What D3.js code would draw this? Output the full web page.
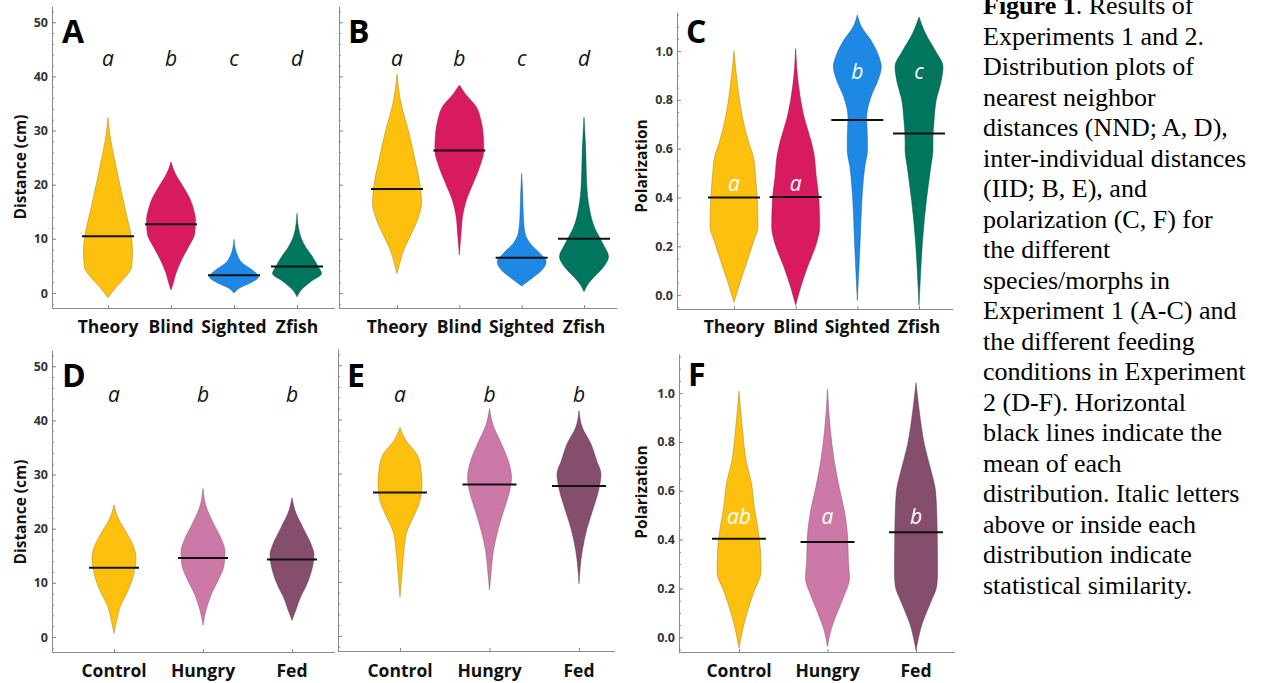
<!DOCTYPE html>
<html><head><meta charset="utf-8">
<script src="https://cdn.jsdelivr.net/npm/d3@7"></script>
<style>body{margin:0;background:#fff}svg{display:block}</style>
</head><body><svg id="c" width="1264" height="683"></svg>
<script>
// ---------------- DATA ----------------
const exp1Groups = ["Theory", "Blind", "Sighted", "Zfish"];
const exp2Groups = ["Control", "Hungry", "Fed"];
const exp1Colors = ["#FEC00F", "#D81B60", "#1E88E5", "#00765F"];
const exp2Colors = ["#FEC00F", "#CC79A7", "#864E6D"];

const distTicks = [0, 10, 20, 30, 40, 50];
const polTicks = [0, 0.2, 0.4, 0.6, 0.8, 1.0];

// means (horizontal black lines)
const nnd1Means = [10.5, 12.7, 3.3, 4.9];
const iid1Means = [19.2, 26.3, 6.5, 10.0];
const pol1Means = [0.400, 0.402, 0.717, 0.662];
const nnd2Means = [12.8, 14.6, 14.3];
const iid2Means = [26.5, 28.0, 27.7];
const pol2Means = [0.404, 0.390, 0.430];

// significance letters
const nnd1Letters = ["a", "b", "c", "d"];
const iid1Letters = ["a", "b", "c", "d"];
const pol1Letters = ["a", "a", "b", "c"];
const pol1LetterAt = [0.457, 0.457, 0.915, 0.915];
const nnd2Letters = ["a", "b", "b"];
const iid2Letters = ["a", "b", "b"];
const pol2Letters = ["ab", "a", "b"];
const pol2LetterAt = [0.495, 0.495, 0.495];

// density profiles: [value, relative density (0..1)]
const nnd1Theory  = [[32.4,0],[29.5,0.07],[23.3,0.33],[18.4,0.56],[14.7,0.74],[11,0.93],[7.9,1],[4.9,0.97],[3,0.72],[1.2,0.36],[-0.86,0]];
const nnd1Blind   = [[24.2,0],[22.1,0.17],[19.6,0.5],[17.2,0.79],[15.3,0.93],[13.5,1],[11,0.97],[8.5,0.71],[6.1,0.43],[3.6,0.2],[1.8,0.09],[0.55,0]];
const nnd1Sighted = [[9.9,0],[7.3,0.11],[5.5,0.35],[4.2,0.76],[3,1],[1.9,0.69],[0.9,0.21],[0,0]];
const nnd1Zfish   = [[14.7,0],[11,0.11],[8.5,0.35],[6.7,0.63],[4.9,0.86],[3.6,1],[2.1,0.56],[0.55,0.17],[-0.7,0]];

const iid1Theory  = [[40.4,0],[35.6,0.14],[29.5,0.49],[24.5,0.74],[20.2,0.93],[16.5,1],[14.1,0.88],[11,0.59],[7.9,0.27],[5.5,0.11],[3.6,0]];
const iid1Blind   = [[38.4,0],[36.8,0.24],[34.4,0.69],[31.9,0.88],[29.5,0.97],[26.4,1],[23.3,0.83],[20.2,0.56],[17.2,0.29],[14.1,0.13],[11,0.07],[7.0,0]];
const iid1Sighted = [[22.1,0],[18.4,0.04],[14.1,0.07],[11,0.14],[9.2,0.34],[7.3,0.75],[5.8,1],[4.2,0.82],[2.7,0.41],[1.3,0]];
const iid1Zfish   = [[32.5,0],[26.4,0.07],[20.2,0.11],[15.9,0.21],[12.2,0.42],[9.2,0.76],[6.7,1],[4.9,0.81],[3,0.42],[1.5,0.14],[0.25,0]];

const pol1Theory  = [[1.0,0],[0.867,0.14],[0.73,0.35],[0.62,0.63],[0.566,0.81],[0.484,0.9],[0.39,0.97],[0.28,1],[0.224,0.83],[0.142,0.56],[0.06,0.28],[-0.03,0]];
const pol1Blind   = [[1.01,0],[0.867,0.11],[0.73,0.35],[0.635,0.63],[0.58,0.76],[0.484,0.86],[0.39,0.97],[0.28,1],[0.21,0.86],[0.115,0.49],[0.033,0.21],[-0.042,0]];
const pol1Sighted = [[1.148,0],[1.10,0.17],[1.045,0.56],[0.977,0.9],[0.936,1],[0.88,0.86],[0.81,0.56],[0.73,0.39],[0.635,0.42],[0.594,0.42],[0.525,0.31],[0.39,0.19],[0.25,0.13],[0.115,0.07],[-0.022,0]];
const pol1Zfish   = [[1.14,0],[1.07,0.28],[1.0,0.69],[0.936,1],[0.867,0.9],[0.8,0.72],[0.717,0.63],[0.635,0.58],[0.594,0.58],[0.525,0.49],[0.39,0.31],[0.25,0.17],[0.115,0.08],[-0.042,0]];

const nnd2Control = [[24.4,0],[22,0.18],[18.9,0.62],[16.4,0.92],[14.6,1],[11.5,0.89],[8.4,0.62],[5.9,0.31],[2.8,0.11],[0.7,0]];
const nnd2Hungry  = [[27.4,0],[24.4,0.12],[20.7,0.51],[18.3,0.81],[15.8,1],[13.3,0.96],[10.9,0.74],[7.8,0.37],[4.7,0.12],[2.2,0]];
const nnd2Fed     = [[25.7,0],[23.2,0.15],[20.1,0.51],[17,0.88],[15.2,1],[12.1,0.88],[9.6,0.66],[7.2,0.37],[4.7,0.15],[3.1,0]];

const iid2Control = [[38.5,0],[36.1,0.27],[33.6,0.76],[31.2,0.94],[28.1,1],[25,0.91],[22,0.61],[19.5,0.33],[15.8,0.18],[10.9,0.08],[7.2,0]];
const iid2Hungry  = [[42,0],[39.1,0.15],[35.5,0.54],[32.4,0.85],[29.3,1],[26.9,0.92],[23.2,0.65],[19.5,0.38],[15.8,0.18],[12.1,0.08],[8.5,0]];
const iid2Fed     = [[41.6,0],[38.5,0.15],[35.5,0.54],[32.4,0.8],[29.9,1],[26.9,0.89],[23.2,0.62],[19.5,0.34],[15.8,0.15],[9.7,0]];

const pol2Control = [[1.008,0],[0.858,0.15],[0.72,0.33],[0.625,0.58],[0.543,0.68],[0.434,0.88],[0.35,0.98],[0.27,1],[0.187,0.68],[0.105,0.38],[0.037,0.18],[-0.045,0]];
const pol2Hungry  = [[1.015,0],[0.858,0.12],[0.72,0.31],[0.61,0.54],[0.516,0.77],[0.406,0.92],[0.31,0.95],[0.242,1],[0.174,0.77],[0.105,0.46],[0.037,0.18],[-0.038,0]];
const pol2Fed     = [[1.042,0],[0.926,0.15],[0.79,0.38],[0.68,0.69],[0.598,0.89],[0.488,0.95],[0.379,0.97],[0.27,0.98],[0.215,0.95],[0.133,0.62],[0.064,0.31],[-0.052,0]];

const captionLines = [
  ". Results of",
  "Experiments 1 and 2.",
  "Distribution plots of",
  "nearest neighbor",
  "distances (NND; A, D),",
  "inter-individual distances",
  "(IID; B, E), and",
  "polarization (C, F) for",
  "the different",
  "species/morphs in",
  "Experiment 1 (A-C) and",
  "the different feeding",
  "conditions in Experiment",
  "2 (D-F). Horizontal",
  "black lines indicate the",
  "mean of each",
  "distribution. Italic letters",
  "above or inside each",
  "distribution indicate",
  "statistical similarity."
];
const captionBold = "Figure 1";

// ---------------- DRAWING ----------------
const svg = d3.select("#c");
svg.append("rect").attr("width", 1264).attr("height", 683).attr("fill", "#fff");

const SANS = "'Open Sans', 'Liberation Sans', sans-serif";
const AXIS_COL = "#8a8a8a";

function panel(o) {
  const g = svg.append("g");
  const y = d3.scaleLinear().domain(o.yDomain).range(o.yRange);
  const x = d3.scalePoint().domain(o.groups).range(o.pts);
  const w = d3.scaleLinear().domain([0, 1]).range([0, o.maxHalf]);

  // minor ticks
  const minor = d3.range(Math.ceil(o.yDomain[0] / o.minorStep), Math.floor(o.yDomain[1] / o.minorStep) + 1)
                  .map(k => +(k * o.minorStep).toFixed(4));
  const gm = g.append("g").attr("transform", `translate(${o.axisX[0]},0)`)
    .call(d3.axisLeft(y).tickValues(minor).tickSize(-2).tickSizeOuter(0).tickFormat(""));
  gm.select(".domain").remove();
  gm.selectAll("line").attr("stroke", AXIS_COL);

  // major ticks + axis line
  const ga = g.append("g").attr("transform", `translate(${o.axisX[0]},0)`)
    .call(d3.axisLeft(y).tickValues(o.ticks).tickSize(-4).tickSizeOuter(0).tickPadding(4)
      .tickFormat(o.showLabels ? o.fmt : ""));
  ga.select(".domain").attr("stroke", AXIS_COL);
  ga.selectAll("line").attr("stroke", AXIS_COL);
  ga.selectAll("text").attr("font-family", SANS).attr("font-weight", 700)
    .attr("font-size", 12.5).attr("fill", "#333");

  // x axis
  const gx = g.append("g").attr("transform", `translate(0,${o.yRange[0]})`)
    .call(d3.axisBottom(x).tickSize(-3).tickSizeOuter(0).tickFormat(""));
  gx.select(".domain").remove();
  gx.selectAll("line").attr("stroke", AXIS_COL);
  g.append("line").attr("x1", o.axisX[0]).attr("x2", o.axisX[1])
    .attr("y1", o.yRange[0] + 0.5).attr("y2", o.yRange[0] + 0.5).attr("stroke", AXIS_COL);

  // violins
  const area = d3.area().curve(d3.curveMonotoneY)
    .y(d => y(d[0])).x0(d => -w(d[1])).x1(d => w(d[1]));
  g.selectAll("path.violin").data(o.groups).join("path").attr("class", "violin")
    .attr("transform", d => `translate(${x(d)},0)`)
    .attr("d", (d, i) => area(o.density[i]))
    .attr("fill", (d, i) => o.colors[i])
    .attr("stroke", (d, i) => d3.color(o.colors[i]).darker(1.2))
    .attr("stroke-opacity", 0.6)
    .attr("stroke-width", 0.8);

  // mean lines
  g.selectAll("line.mean").data(o.groups).join("line").attr("class", "mean")
    .attr("x1", d => x(d) - o.meanHalf).attr("x2", d => x(d) + o.meanHalf)
    .attr("y1", (d, i) => y(o.means[i])).attr("y2", (d, i) => y(o.means[i]))
    .attr("stroke", "#111").attr("stroke-width", 2);

  // letters
  g.selectAll("text.letter").data(o.groups).join("text").attr("class", "letter")
    .attr("x", d => x(d))
    .attr("y", (d, i) => o.letterAt ? y(o.letterAt[i]) : o.letterY)
    .attr("dy", o.letterAt ? "0.35em" : 0)
    .attr("text-anchor", "middle")
    .attr("font-family", SANS).attr("font-style", "italic").attr("font-size", 21)
    .attr("fill", o.letterAt ? "#fff" : "#111")
    .text((d, i) => o.letters[i]);

  // category labels
  g.selectAll("text.cat").data(o.groups).join("text").attr("class", "cat")
    .attr("x", d => x(d)).attr("y", o.catY)
    .attr("text-anchor", "middle")
    .attr("font-family", SANS).attr("font-weight", 700).attr("font-size", 17.5)
    .attr("fill", "#111").text(d => d);

  // panel label
  g.append("text").attr("x", o.labelPos[0]).attr("y", o.labelPos[1])
    .attr("font-family", SANS).attr("font-weight", 700).attr("font-size", 32)
    .attr("fill", "#000").text(o.label);

  // y title
  if (o.yTitle) {
    g.append("text")
      .attr("transform", `translate(${o.yTitlePos[0]},${o.yTitlePos[1]}) rotate(-90)`)
      .attr("text-anchor", "middle").attr("dy", "0.35em")
      .attr("font-family", SANS).attr("font-weight", 700).attr("font-size", 15.5)
      .attr("fill", "#111").text(o.yTitle);
  }
}

const distFmt = d3.format("d");
const polFmt = d3.format(".1f");
const distDomain = [-2.77, 53];
const polDomain1 = [-0.057, 1.16];
const polDomain2 = [-0.06, 1.16];

// Row 1
panel({ label: "A", groups: exp1Groups, colors: exp1Colors, density: [nnd1Theory, nnd1Blind, nnd1Sighted, nnd1Zfish],
  means: nnd1Means, letters: nnd1Letters, letterY: 66,
  yDomain: distDomain, yRange: [308, 6], axisX: [52, 335], pts: [108, 297],
  ticks: distTicks, minorStep: 2, showLabels: true, fmt: distFmt,
  maxHalf: 24.5, meanHalf: 26, catY: 333, labelPos: [62, 43],
  yTitle: "Distance (cm)", yTitlePos: [21, 167] });

panel({ label: "B", groups: exp1Groups, colors: exp1Colors, density: [iid1Theory, iid1Blind, iid1Sighted, iid1Zfish],
  means: iid1Means, letters: iid1Letters, letterY: 66,
  yDomain: distDomain, yRange: [308, 6], axisX: [339, 617], pts: [397, 584],
  ticks: distTicks, minorStep: 2, showLabels: false, fmt: distFmt,
  maxHalf: 24.5, meanHalf: 26, catY: 333, labelPos: [348, 43] });

panel({ label: "C", groups: exp1Groups, colors: exp1Colors, density: [pol1Theory, pol1Blind, pol1Sighted, pol1Zfish],
  means: pol1Means, letters: pol1Letters, letterAt: pol1LetterAt,
  yDomain: polDomain1, yRange: [309, 12], axisX: [677, 953], pts: [734, 919],
  ticks: polTicks, minorStep: 0.05, showLabels: true, fmt: polFmt,
  maxHalf: 24, meanHalf: 26, catY: 333, labelPos: [686, 43],
  yTitle: "Polarization", yTitlePos: [642, 166] });

// Row 2
panel({ label: "D", groups: exp2Groups, colors: exp2Colors, density: [nnd2Control, nnd2Hungry, nnd2Fed],
  means: nnd2Means, letters: nnd2Letters, letterY: 402,
  yDomain: distDomain, yRange: [652, 350], axisX: [52, 335], pts: [114, 292],
  ticks: distTicks, minorStep: 2, showLabels: true, fmt: distFmt,
  maxHalf: 22, meanHalf: 25, catY: 677, labelPos: [62, 387],
  yTitle: "Distance (cm)", yTitlePos: [21, 512] });

panel({ label: "E", groups: exp2Groups, colors: exp2Colors, density: [iid2Control, iid2Hungry, iid2Fed],
  means: iid2Means, letters: iid2Letters, letterY: 402,
  yDomain: distDomain, yRange: [651, 349], axisX: [338, 615], pts: [400, 579],
  ticks: distTicks, minorStep: 2, showLabels: false, fmt: distFmt,
  maxHalf: 22, meanHalf: 27, catY: 677, labelPos: [347, 387] });

panel({ label: "F", groups: exp2Groups, colors: exp2Colors, density: [pol2Control, pol2Hungry, pol2Fed],
  means: pol2Means, letters: pol2Letters, letterAt: pol2LetterAt,
  yDomain: polDomain2, yRange: [652, 354], axisX: [679, 955], pts: [739, 916],
  ticks: polTicks, minorStep: 0.05, showLabels: true, fmt: polFmt,
  maxHalf: 22, meanHalf: 27, catY: 677, labelPos: [688, 386],
  yTitle: "Polarization", yTitlePos: [642, 492] });

// Caption
const cap = svg.append("text").attr("font-family", "'Liberation Serif', 'Times New Roman', serif")
  .attr("font-size", 26).attr("fill", "#000");
captionLines.forEach((line, i) => {
  const t = cap.append("tspan").attr("x", 983).attr("y", 14 + i * 30.5);
  if (i === 0) {
    t.append("tspan").attr("font-weight", 700).text(captionBold);
    cap.append("tspan").text(line);
  } else {
    t.text(line);
  }
});
</script>
</body></html>
